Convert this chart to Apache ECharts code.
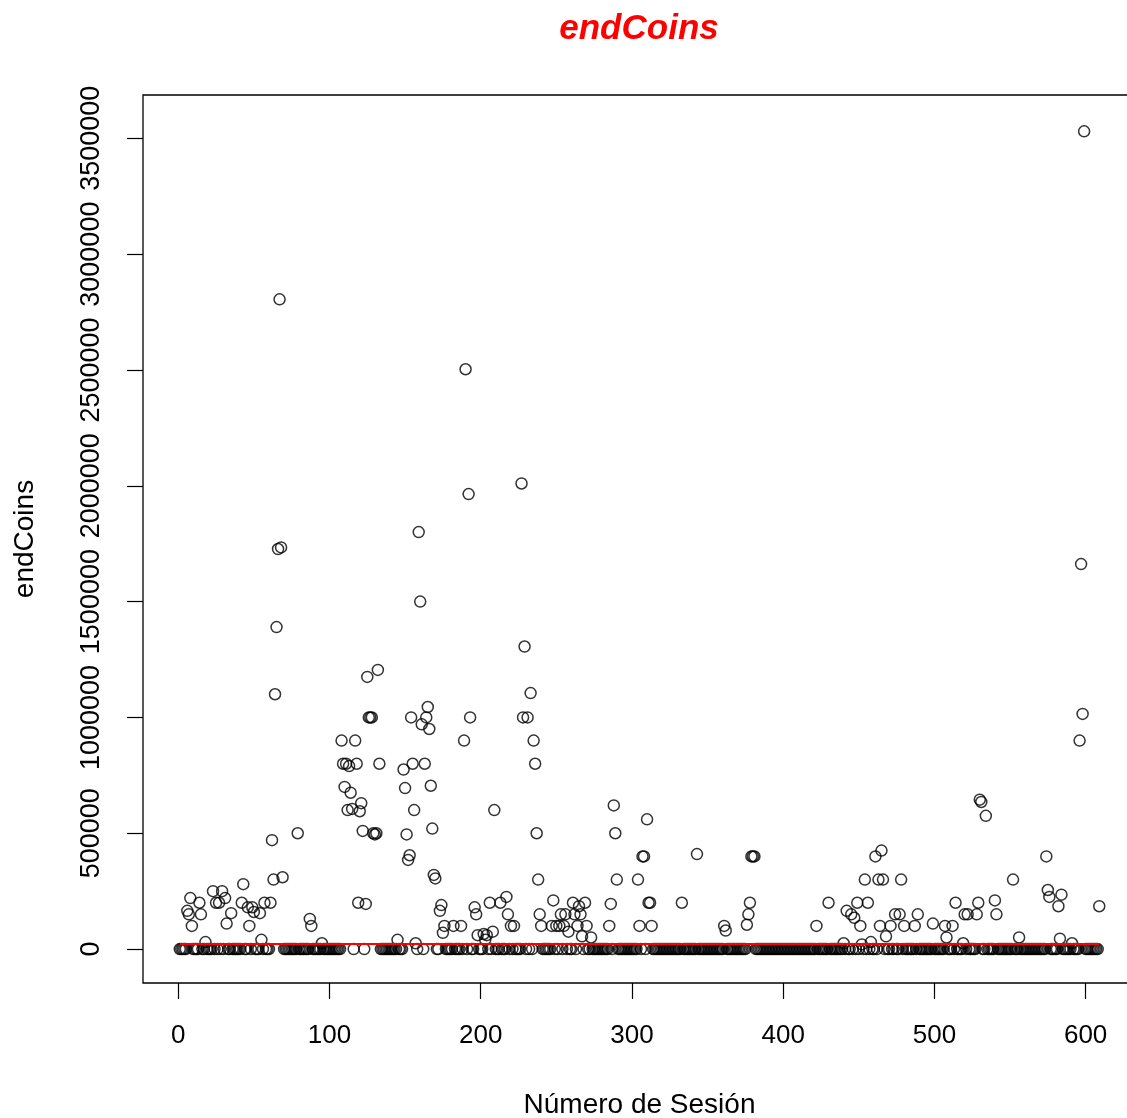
<!DOCTYPE html>
<html>
<head>
<meta charset="utf-8">
<script src="https://cdn.jsdelivr.net/npm/echarts@6/dist/echarts.min.js"></script>
<style>
html,body{margin:0;padding:0;background:#fff;overflow:hidden;}
#c{width:1127px;height:1118px;}
</style>
</head>
<body>
<div id="c"></div>
<script>
// endCoins per session (sessions 1..609)
const endCoins = [
  0,0,0,0,0,165000,150000,220000,100000,0,                     // 1-10
  0,0,0,200000,150000,0,0,30000,0,0,                           // 11-20
  0,0,250000,0,200000,0,200000,0,250000,0,                     // 21-30
  220000,110000,0,0,155000,0,0,0,0,0,                          // 31-40
  0,200000,280000,0,0,180000,100000,0,180000,160000,           // 41-50
  0,0,0,155000,40000,0,200000,0,0,0,                           // 51-60
  200000,470000,300000,1100000,1390000,1727000,2805000,1734000,310000,0, // 61-70
  0,0,0,0,0,0,0,0,500000,0,                                    // 71-80
  0,0,0,0,0,0,130000,100000,0,0,                               // 81-90
  0,0,0,0,25000,0,0,0,0,0,                                     // 91-100
  0,0,0,0,0,0,0,900000,800000,700000,                          // 101-110
  800000,600000,790000,675000,605000,0,900000,800000,200000,595000, // 111-120
  630000,510000,0,195000,1175000,1000000,1000000,1000000,500000,495000, // 121-130
  500000,1205000,800000,0,0,0,0,0,0,0,                         // 131-140
  0,0,0,0,40000,0,0,0,775000,695000,                           // 141-150
  495000,385000,405000,1000000,800000,600000,25000,0,1800000,1500000, // 151-160
  970000,0,800000,1000000,1045000,950000,705000,520000,320000,305000, // 161-170
  0,0,165000,190000,70000,100000,0,0,0,0,                      // 171-180
  0,100000,0,0,0,0,100000,0,900000,2503000,                    // 181-190
  0,1964000,1000000,0,0,180000,150000,60000,0,0,               // 191-200
  0,65000,40000,60000,0,200000,0,75000,600000,0,               // 201-210
  0,0,200000,0,0,0,225000,150000,0,100000,                     // 211-220
  0,100000,0,0,0,0,2010000,1000000,1306000,0,                  // 221-230
  1000000,0,1105000,0,900000,800000,500000,300000,150000,100000, // 231-240
  0,0,0,0,0,0,100000,210000,0,100000,                          // 241-250
  0,100000,150000,0,100000,150000,0,75000,0,0,                 // 251-260
  200000,150000,0,100000,185000,150000,55000,0,200000,100000,  // 261-270
  0,0,50000,0,0,0,0,0,0,0,                                     // 271-280
  0,0,0,0,100000,195000,0,620000,500000,300000,                // 281-290
  0,0,0,0,0,0,0,0,0,0,                                         // 291-300
  0,0,0,300000,100000,0,400000,400000,0,560000,                // 301-310
  200000,200000,100000,0,0,0,0,0,0,0,                          // 311-320
  0,0,0,0,0,0,0,0,0,0,                                         // 321-330
  0,0,200000,0,0,0,0,0,0,0,                                    // 331-340
  0,0,410000,0,0,0,0,0,0,0,                                    // 341-350
  0,0,0,0,0,0,0,0,0,0,                                         // 351-360
  100000,80000,0,0,0,0,0,0,0,0,                                // 361-370
  0,0,0,0,0,105000,150000,200000,400000,400000,                // 371-380
  400000,0,0,0,0,0,0,0,0,0,                                    // 381-390
  0,0,0,0,0,0,0,0,0,0,                                         // 391-400
  0,0,0,0,0,0,0,0,0,0,                                         // 401-410
  0,0,0,0,0,0,0,0,0,0,                                         // 411-420
  0,100000,0,0,0,0,0,0,0,200000,                               // 421-430
  0,0,0,0,0,0,0,0,0,25000,                                     // 431-440
  0,165000,0,0,150000,0,135000,0,200000,0,                     // 441-450
  100000,20000,0,300000,0,200000,0,30000,0,0,                  // 451-460
  400000,0,300000,100000,425000,300000,0,55000,0,0,            // 461-470
  100000,0,0,150000,0,0,150000,300000,0,100000,                // 471-480
  0,0,0,0,0,0,100000,0,150000,0,                               // 481-490
  0,0,0,0,0,0,0,0,110000,0,                                    // 491-500
  0,0,0,0,0,0,100000,50000,0,0,                                // 501-510
  0,100000,0,200000,0,0,0,0,25000,150000,                      // 511-520
  0,150000,0,0,0,0,0,150000,200000,645000,                     // 521-530
  635000,0,0,575000,0,0,0,0,0,210000,                          // 531-540
  150000,0,0,0,0,0,0,0,0,0,                                    // 541-550
  0,300000,0,0,0,50000,0,0,0,0,                                // 551-560
  0,0,0,0,0,0,0,0,0,0,                                         // 561-570
  0,0,0,400000,255000,225000,0,0,0,0,                          // 571-580
  0,185000,45000,235000,0,0,0,0,0,0,                           // 581-590
  25000,0,0,0,0,900000,1662000,1015000,3530000,0,              // 591-600
  0,0,0,0,0,0,0,0,185000                                       // 601-609
];
// red reference line (flat, just above zero)
const redLineX = [1, 609];
const redLineY = [21500, 21500];
// tick labels
const xTicks = [0, 100, 200, 300, 400, 500, 600];
const yTicks = [0, 500000, 1000000, 1500000, 2000000, 2500000, 3000000, 3500000];

const FONT = '"Liberation Sans", Arial, sans-serif';
const points = endCoins.map((v, i) => [i + 1, v]);
const redLine = redLineX.map((x, i) => [x, redLineY[i]]);

const chart = echarts.init(document.getElementById('c'), null, {renderer: 'canvas'});
chart.setOption({
  animation: false,
  backgroundColor: '#fff',
  title: {
    text: 'endCoins', left: 634, top: 7, textAlign: 'center',
    textStyle: {color: '#ff0000', fontSize: 35, fontWeight: 'bold', fontStyle: 'italic', fontFamily: FONT}
  },
  grid: {left: 143, top: 95, width: 993, height: 888, show: true, borderColor: '#000', borderWidth: 1.3,
         backgroundColor: 'transparent', containLabel: false, outerBoundsMode: 'none'},
  xAxis: {
    type: 'value', min: -23.3, max: 633.3,
    splitLine: {show: false},
    axisLine: {show: false, onZero: false},
    axisTick: {show: true, customValues: xTicks, length: 16, lineStyle: {color: '#000', width: 1.2}},
    axisLabel: {customValues: xTicks, fontSize: 26, color: '#000', fontFamily: FONT, margin: 40,
                formatter: v => String(v)},
    name: 'Número de Sesión', nameLocation: 'middle', nameGap: 108,
    nameTextStyle: {fontSize: 28, color: '#000', fontFamily: FONT}
  },
  yAxis: {
    type: 'value', min: -146500, max: 3687000,
    splitLine: {show: false},
    axisLine: {show: false, onZero: false},
    axisTick: {show: true, customValues: yTicks, length: 16, lineStyle: {color: '#000', width: 1.2}},
    axisLabel: {customValues: yTicks, rotate: 90, fontSize: 27, color: '#000', fontFamily: FONT, margin: 38,
                formatter: v => String(v)},
    name: 'endCoins', nameLocation: 'middle', nameGap: 104,
    nameTextStyle: {fontSize: 28, color: '#000', fontFamily: FONT}
  },
  series: [
    {
      type: 'scatter', data: points, symbol: 'circle', symbolSize: 11,
      itemStyle: {color: 'rgba(0,0,0,0)', borderColor: '#000', borderWidth: 1.5},
      emphasis: {disabled: true}, z: 2
    },
    {
      type: 'line', data: redLine, symbol: 'none',
      lineStyle: {color: '#ff0000', width: 2}, z: 3, silent: true
    }
  ]
});
</script>
</body>
</html>
